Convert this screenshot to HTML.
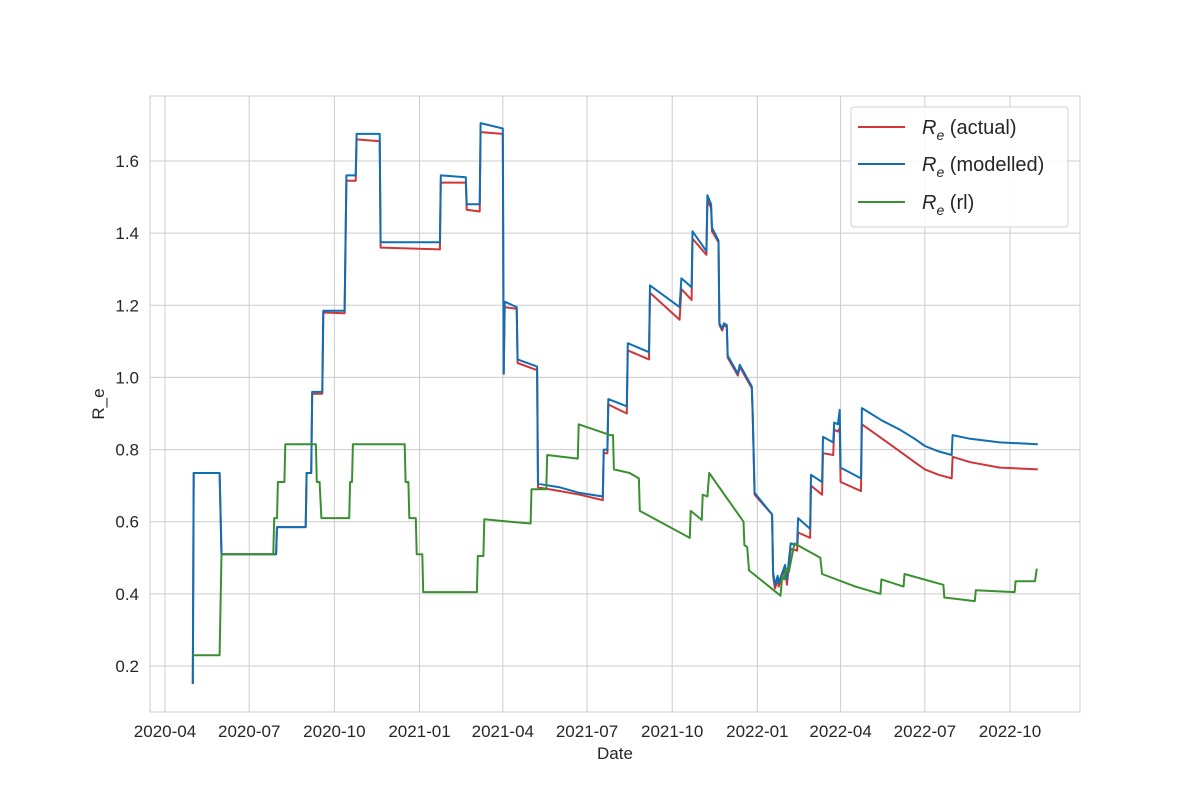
<!DOCTYPE html>
<html><head><meta charset="utf-8"><style>
body{margin:0;background:#fff;}
svg text{font-family:"Liberation Sans","DejaVu Sans",sans-serif;fill:#262626;}
</style></head><body>
<svg id="chart" width="1200" height="800" xmlns="http://www.w3.org/2000/svg">
<rect x="0" y="0" width="1200" height="800" fill="#fff"/>
<g id="grid"></g>
<rect x="150" y="96" width="930" height="616" fill="none" stroke="#cccccc" stroke-width="1"/>
<g id="series"></g>
<g id="ticks"></g>
<text x="615" y="759" font-size="17" text-anchor="middle">Date</text>
<text x="104" y="404" font-size="17" text-anchor="middle" transform="rotate(-90 104 404)">R_e</text>
<g>
<rect x="851" y="107" width="217" height="120" rx="3" fill="#fff" fill-opacity="0.85" stroke="#d0d0d0"/>
<line x1="858" y1="127" x2="905" y2="127" stroke="#d03537" stroke-width="2"/>
<text x="922" y="134" font-size="20"><tspan font-style="italic">R</tspan><tspan font-style="italic" font-size="14" dy="6">e</tspan><tspan dy="-6"> (actual)</tspan></text>
<line x1="858" y1="164" x2="905" y2="164" stroke="#0f6eb4" stroke-width="2"/>
<text x="922" y="171" font-size="20"><tspan font-style="italic">R</tspan><tspan font-style="italic" font-size="14" dy="6">e</tspan><tspan dy="-6"> (modelled)</tspan></text>
<line x1="858" y1="202" x2="905" y2="202" stroke="#3a9030" stroke-width="2"/>
<text x="922" y="209" font-size="20"><tspan font-style="italic">R</tspan><tspan font-style="italic" font-size="14" dy="6">e</tspan><tspan dy="-6"> (rl)</tspan></text>
</g>
</svg>
<script>
// days since 2020-04-01
const modelledDays=[30,31,59,61,120,121,152,153,158,159,170,171,194,196,206,207,232,233,297,298,325,326,340,341,365,366,367,380,381,402,403,427,448,473,474,478,479,499,500,523,524,556,558,569,570,585,586,590,591,598,599,602,604,607,608,619,621,634,635,637,656,657,659,662,663,670,672,676,683,684,697,698,710,711,722,723,727,729,730,752,753,775,794,810,821,836,850,851,870,902,943];
const modelledVals=[0.15,0.735,0.735,0.51,0.51,0.585,0.585,0.735,0.735,0.96,0.96,1.185,1.185,1.56,1.56,1.675,1.675,1.375,1.375,1.56,1.555,1.48,1.48,1.705,1.69,1.01,1.21,1.195,1.05,1.03,0.705,0.695,0.68,0.67,0.8,0.8,0.94,0.92,1.095,1.07,1.255,1.195,1.275,1.25,1.405,1.35,1.505,1.48,1.415,1.38,1.15,1.135,1.15,1.145,1.06,1.01,1.035,0.975,0.9,0.68,0.62,0.46,0.425,0.45,0.43,0.48,0.44,0.54,0.535,0.61,0.58,0.73,0.71,0.835,0.82,0.875,0.87,0.91,0.75,0.72,0.915,0.88,0.855,0.83,0.81,0.795,0.785,0.84,0.83,0.82,0.815];
const actualDays=modelledDays;
const actualVals=[0.15,0.735,0.735,0.51,0.51,0.585,0.585,0.735,0.735,0.955,0.955,1.18,1.178,1.545,1.545,1.66,1.655,1.36,1.355,1.54,1.54,1.465,1.46,1.68,1.675,1.01,1.195,1.19,1.04,1.02,0.695,0.685,0.675,0.66,0.79,0.79,0.925,0.9,1.075,1.05,1.235,1.16,1.245,1.215,1.385,1.34,1.49,1.47,1.405,1.375,1.145,1.13,1.145,1.14,1.055,1.005,1.03,0.97,0.895,0.675,0.62,0.45,0.415,0.44,0.42,0.47,0.425,0.525,0.52,0.57,0.555,0.7,0.675,0.79,0.785,0.855,0.85,0.86,0.71,0.685,0.87,0.83,0.795,0.765,0.745,0.73,0.72,0.78,0.765,0.75,0.745];
const rlDays=[30,59,61,117,118,121,122,129,130,163,164,167,169,199,200,202,203,259,260,263,264,271,272,278,279,337,338,344,345,373,395,396,412,413,446,447,481,484,485,502,512,513,567,568,580,581,586,588,625,626,629,631,665,667,669,671,674,680,708,710,746,773,774,798,799,841,842,875,876,918,919,940,942];
const rlVals=[0.23,0.23,0.51,0.51,0.61,0.61,0.71,0.71,0.815,0.815,0.71,0.71,0.61,0.61,0.71,0.71,0.815,0.815,0.71,0.71,0.61,0.61,0.51,0.51,0.405,0.405,0.505,0.505,0.607,0.6,0.595,0.69,0.69,0.785,0.775,0.87,0.84,0.84,0.745,0.735,0.72,0.63,0.555,0.63,0.605,0.675,0.67,0.735,0.6,0.535,0.53,0.465,0.395,0.45,0.44,0.47,0.46,0.54,0.5,0.455,0.42,0.4,0.44,0.42,0.455,0.425,0.39,0.38,0.41,0.405,0.435,0.435,0.47];
const yTicks=[0.2,0.4,0.6,0.8,1.0,1.2,1.4,1.6];
const xTickLabels=["2020-04","2020-07","2020-10","2021-01","2021-04","2021-07","2021-10","2022-01","2022-04","2022-07","2022-10"];

const NS="http://www.w3.org/2000/svg";
const base=Date.UTC(2020,3,1);
function xScale(d){return 165+d*(845/913);}
function yScale(v){return 666-(v-0.2)*(505/1.4);}
function labelDays(s){const [y,m]=s.split('-').map(Number);return (Date.UTC(y,m-1,1)-base)/86400000;}
const grid=document.getElementById('grid'),ticks=document.getElementById('ticks'),series=document.getElementById('series');
yTicks.forEach(v=>{
 const y=yScale(v);
 const l=document.createElementNS(NS,'line');
 l.setAttribute('x1',150);l.setAttribute('x2',1080);l.setAttribute('y1',y);l.setAttribute('y2',y);
 l.setAttribute('stroke','#cccccc');
 
 
 grid.appendChild(l);
 const t=document.createElementNS(NS,'text');
 t.setAttribute('x',139);t.setAttribute('y',y+6);t.setAttribute('font-size','17');t.setAttribute('text-anchor','end');
 t.textContent=v.toFixed(1);
 
 
 ticks.appendChild(t);
});
xTickLabels.forEach(s=>{
 const x=xScale(labelDays(s));
 const l=document.createElementNS(NS,'line');
 l.setAttribute('x1',x);l.setAttribute('x2',x);l.setAttribute('y1',96);l.setAttribute('y2',712);
 l.setAttribute('stroke','#cccccc');
 
 
 grid.appendChild(l);
 const t=document.createElementNS(NS,'text');
 t.setAttribute('x',x);t.setAttribute('y',737);t.setAttribute('font-size','17');t.setAttribute('text-anchor','middle');
 t.textContent=s;
 
 
 ticks.appendChild(t);
});
function draw(days,vals,color,name){
 const p=document.createElementNS(NS,'polyline');
 p.setAttribute('points',days.map((d,i)=>xScale(d).toFixed(1)+','+yScale(vals[i]).toFixed(1)).join(' '));
 p.setAttribute('fill','none');p.setAttribute('stroke',color);p.setAttribute('stroke-width','2');p.setAttribute('stroke-linejoin','round');
 
 
 series.appendChild(p);
}
draw(actualDays,actualVals,'#d03537','line-actual');
draw(modelledDays,modelledVals,'#0f6eb4','line-modelled');
draw(rlDays,rlVals,'#3a9030','line-rl');
</script>
</body></html>
